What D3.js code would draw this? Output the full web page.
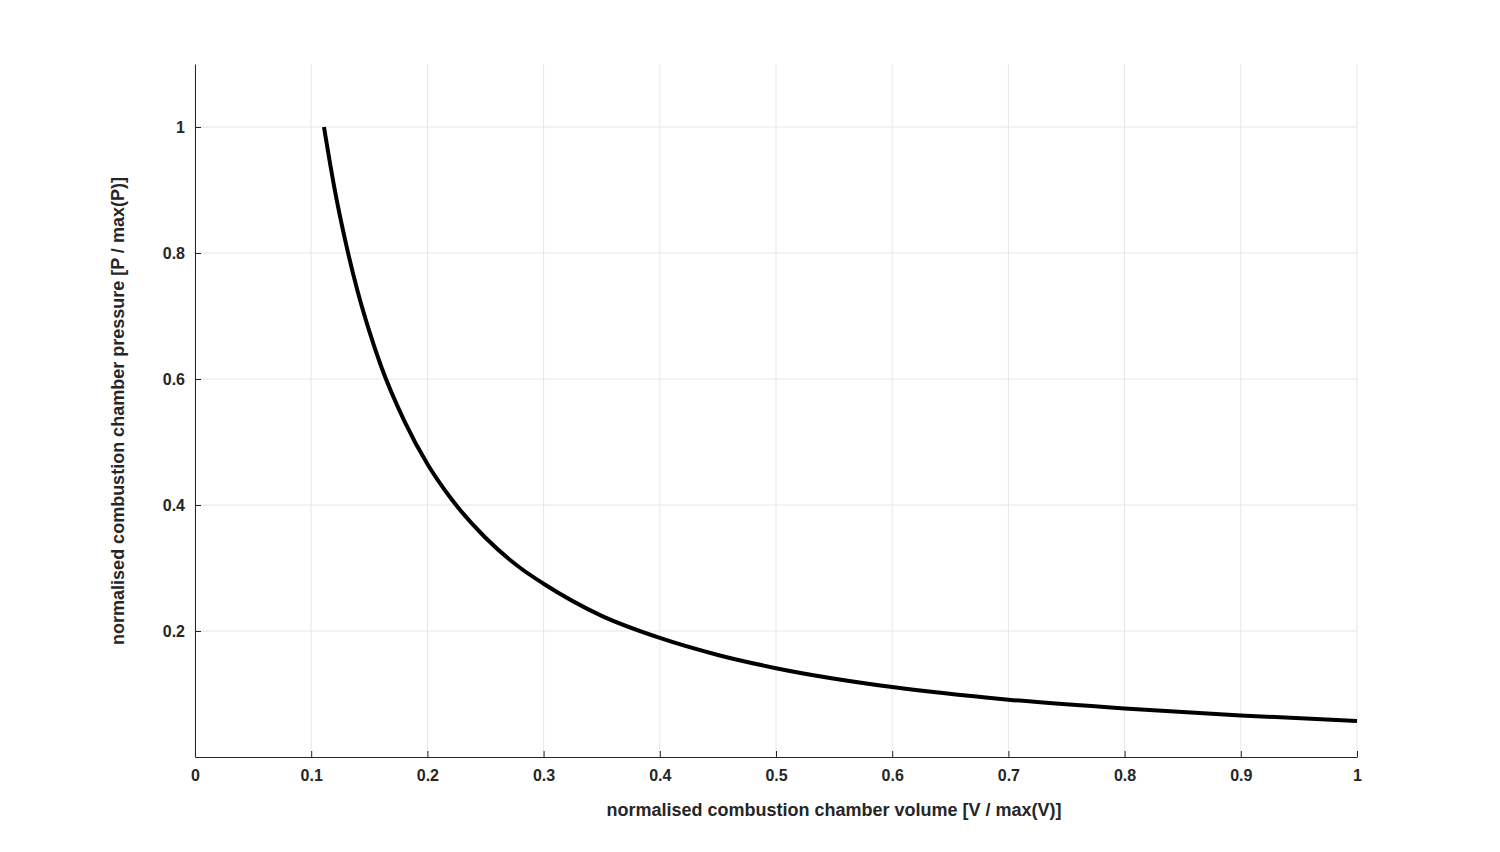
<!DOCTYPE html>
<html><head><meta charset="utf-8">
<script src="https://cdn.jsdelivr.net/npm/d3@7"></script>
<style>body{margin:0;background:#fff}svg{font-family:"Liberation Sans",Arial,sans-serif}</style>
</head><body>
<svg id="c" width="1500" height="852"></svg>
<script>
const volume = [0.111,0.12,0.13,0.14,0.15,0.16,0.18,0.2,0.22,0.25,0.28,0.3,0.35,0.4,0.45,0.5,0.6,0.7,0.8,0.9,1.0];
const pressure = [1.0,0.903,0.814,0.739,0.676,0.621,0.534,0.465,0.411,0.348,0.300,0.275,0.224,0.189,0.162,0.141,0.111,0.091,0.077,0.066,0.057];
const xTicks = [0,0.1,0.2,0.3,0.4,0.5,0.6,0.7,0.8,0.9,1];
const yTicks = [0.2,0.4,0.6,0.8,1];
const xLabel = "normalised combustion chamber volume [V / max(V)]";
const yLabel = "normalised combustion chamber pressure [P / max(P)]";

const svg = d3.select("#c");
const L=195,R=1357,T=64,B=757;
const x = d3.scaleLinear().domain([0,1]).range([L,R]);
const y = d3.scaleLinear().domain([0,1.1]).range([B,T]);
const g = svg.append("g");
g.selectAll(".gx").data(xTicks).join("line").attr("x1",d=>x(d)).attr("x2",d=>x(d)).attr("y1",T).attr("y2",B).attr("stroke","#e6e6e6");
g.selectAll(".gy").data(yTicks).join("line").attr("x1",L).attr("x2",R).attr("y1",d=>y(d)).attr("y2",d=>y(d)).attr("stroke","#e6e6e6");
const xa = svg.append("g").attr("transform",`translate(0,${B})`).call(d3.axisBottom(x).tickValues(xTicks).tickFormat(d3.format("~g")).tickSizeInner(-6).tickSizeOuter(0).tickPadding(13));
const ya = svg.append("g").attr("transform",`translate(${L},0)`).call(d3.axisLeft(y).tickValues(yTicks).tickFormat(d3.format("~g")).tickSizeInner(-6).tickSizeOuter(0).tickPadding(10));
[xa,ya].forEach(a=>{a.selectAll("path,line").attr("stroke","#262626");a.selectAll("text").attr("font-size",16).attr("font-weight","bold").attr("fill","#262626").attr("font-family","Liberation Sans, Arial, sans-serif");});
svg.append("path").datum(volume.map((v,i)=>[v,pressure[i]]))
  .attr("d",d3.line().x(d=>x(d[0])).y(d=>y(d[1])).curve(d3.curveMonotoneX))
  .attr("fill","none").attr("stroke","#000").attr("stroke-width",4);
svg.append("text").attr("x",834).attr("y",816).attr("text-anchor","middle").attr("font-size",18).attr("font-weight","bold").attr("fill","#262626").text(xLabel);
svg.append("text").attr("transform",`translate(124,411) rotate(-90)`).attr("text-anchor","middle").attr("font-size",18).attr("font-weight","bold").attr("fill","#262626").text(yLabel);
</script>
</body></html>
